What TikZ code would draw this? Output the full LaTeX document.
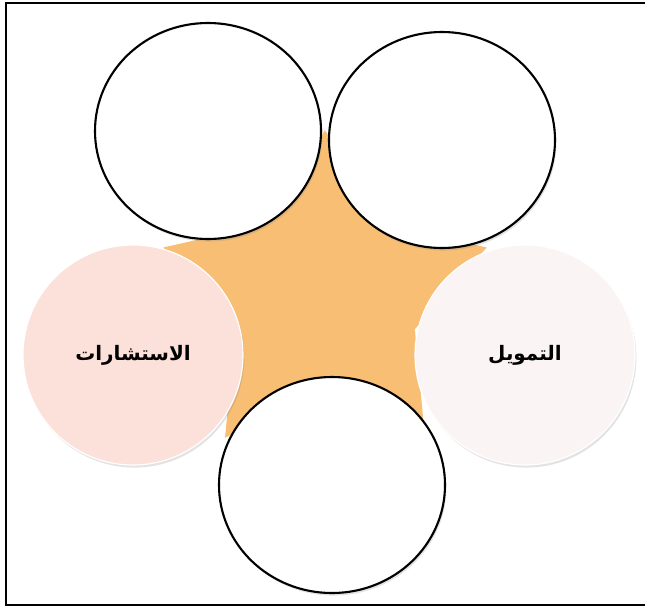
\documentclass[tikz,border=0pt]{standalone}
\usepackage{fontspec}
\newfontfamily\arabicfont[Script=Arabic]{DejaVu Sans}
\TeXXeTstate=1
\usetikzlibrary{shapes.geometric, shadows}
\definecolor{starfill}{HTML}{F8BE74}
\definecolor{consultfill}{HTML}{FBE1D9}
\definecolor{financefill}{HTML}{FAF4F4}

\begin{document}
\begin{tikzpicture}[
    x=0.03cm, y=-0.03cm,
    hub/.style={star, star points=5, star point ratio=1.8, minimum size=10.2cm,
                inner sep=0pt, fill=starfill, draw=none},
    blob/.style={ellipse, inner sep=0pt,
                 drop shadow={opacity=0.22, shadow xshift=1.2pt, shadow yshift=-2.2pt}},
    emptyring/.style={blob, minimum width=6.78cm, minimum height=6.48cm,
                      fill=white, draw=black, line width=1.8pt},
    labelring/.style={blob, minimum width=6.6cm, minimum height=6.6cm,
                      draw=white, line width=1pt,
                      font=\arabicfont\bfseries\fontsize{17}{20}\selectfont},
]

\useasboundingbox (0,0) rectangle (645,608);

% ── frame (its right side lies past the edge) ──
\draw[line width=1.6pt] (700,3) -- (6,3) -- (6,605) -- (700,605);

% ── star in the middle ──
\node[hub] (core) at (325,300) {};

% ── labelled circles ──
\node[labelring, fill=consultfill] (consult) at (133,355) {\beginR الاستشارات\endR};
\node[labelring, fill=financefill] (finance) at (525,355) {\beginR التمويل\endR};

% ── empty circles ──
\node[emptyring] (upleft)  at (208,131) {};
\node[emptyring] (upright) at (442,140) {};
\node[emptyring] (bottom)  at (332,485) {};

\end{tikzpicture}
\end{document}
